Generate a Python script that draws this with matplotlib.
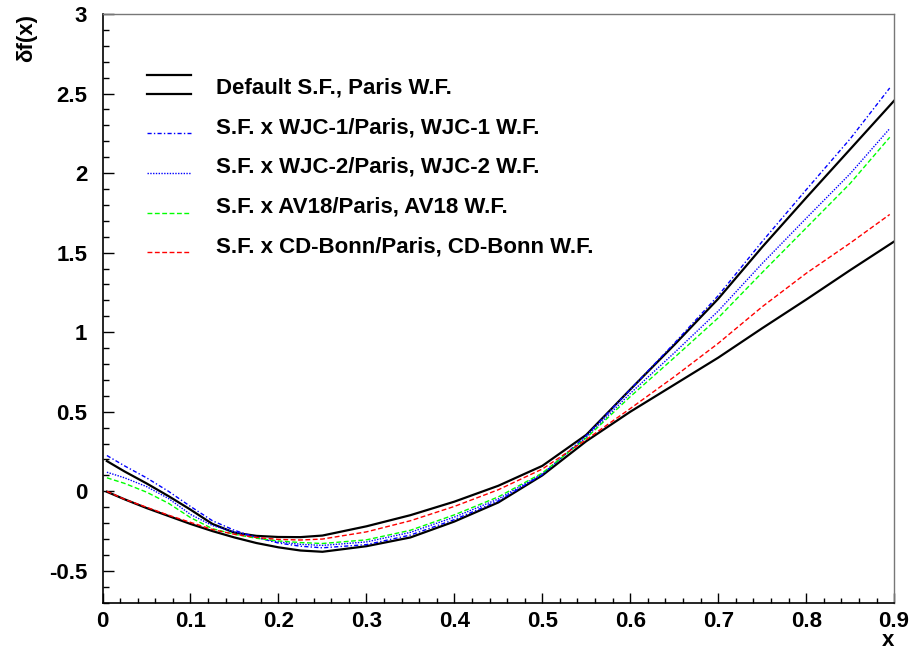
import matplotlib
matplotlib.use('Agg')
import matplotlib.pyplot as plt
from matplotlib.lines import Line2D
from matplotlib.legend_handler import HandlerBase
from matplotlib.ticker import MultipleLocator, FuncFormatter

plt.rcParams['font.family'] = ['Liberation Sans', 'DejaVu Sans']
plt.rcParams['font.weight'] = 'bold'
plt.rcParams['axes.labelweight'] = 'bold'
plt.rcParams['font.size'] = 16

# ============================== DATA ============================== #

x_paris = [0.005, 0.025, 0.05, 0.075, 0.1, 0.125, 0.15, 0.175, 0.2, 0.225, 0.25,
           0.3, 0.35, 0.4, 0.45, 0.5, 0.55, 0.6, 0.65, 0.7, 0.75, 0.8, 0.85, 0.9]
x_model = x_paris[:-1] + [0.895]

# default S.F., Paris W.F. (two black curves)
paris_hi = [0.19, 0.125, 0.05, -0.03, -0.115, -0.205, -0.26, -0.28, -0.287, -0.288, -0.278,
            -0.22, -0.15, -0.065, 0.035, 0.16, 0.355, 0.64, 0.92, 1.21, 1.535, 1.845, 2.15, 2.455]
paris_lo = [-0.003, -0.05, -0.105, -0.155, -0.205, -0.25, -0.29, -0.325, -0.352, -0.372, -0.38,
            -0.345, -0.29, -0.19, -0.07, 0.10, 0.315, 0.50, 0.67, 0.84, 1.025, 1.205, 1.39, 1.57]

wjc1 = [0.225, 0.16, 0.085, 0.0, -0.095, -0.185, -0.245, -0.29, -0.325, -0.345, -0.355,
        -0.335, -0.275, -0.178, -0.06, 0.105, 0.35, 0.64, 0.93, 1.23, 1.57, 1.895, 2.215, 2.535]
wjc2 = [0.12, 0.085, 0.03, -0.045, -0.145, -0.215, -0.255, -0.29, -0.318, -0.333, -0.34,
        -0.318, -0.258, -0.162, -0.048, 0.11, 0.34, 0.615, 0.87, 1.133, 1.432, 1.716, 1.996, 2.28]
av18 = [0.085, 0.05, -0.005, -0.075, -0.165, -0.235, -0.27, -0.295, -0.312, -0.322, -0.328,
        -0.305, -0.245, -0.148, -0.035, 0.115, 0.335, 0.595, 0.84, 1.09, 1.375, 1.655, 1.935, 2.225]
cdbonn = [0.0, -0.05, -0.1, -0.15, -0.195, -0.24, -0.27, -0.29, -0.302, -0.306, -0.3,
          -0.255, -0.185, -0.095, 0.01, 0.14, 0.325, 0.52, 0.72, 0.93, 1.16, 1.37, 1.56, 1.74]

labels = ['Default S.F., Paris W.F.',
          'S.F. x WJC-1/Paris, WJC-1 W.F.',
          'S.F. x WJC-2/Paris, WJC-2 W.F.',
          'S.F. x AV18/Paris, AV18 W.F.',
          'S.F. x CD-Bonn/Paris, CD-Bonn W.F.']

# ============================ UTILITIES ============================ #

class LegendLines(HandlerBase):
    # draws the handle as one or more horizontal lines, shifted in units of fontsize
    def __init__(self, offsets):
        super().__init__()
        self.offsets = offsets

    def create_artists(self, legend, orig_handle, xdescent, ydescent,
                       width, height, fontsize, trans):
        artists = []
        for dy in self.offsets:
            y = height / 2 - ydescent + dy * fontsize
            l = Line2D([-xdescent, width - xdescent], [y, y])
            self.update_prop(l, orig_handle, legend)
            l.set_transform(trans)
            artists.append(l)
        return artists


def fmt(v, _):
    return '%g' % round(v, 3)

# ============================== PLOT ============================== #

fig = plt.figure(figsize=(9.12, 6.51), dpi=100)
ax = fig.add_axes([0.1124, 0.0742, 0.868, 0.9043])

l_hi, = ax.plot(x_paris, paris_hi, color='black', lw=1.6)
ax.plot(x_paris, paris_lo, color='black', lw=1.6)
l_w1, = ax.plot(x_model, wjc1, color='#0000ff', lw=1.0, dashes=(3, 1.6, 1, 1.6))
l_w2, = ax.plot(x_model, wjc2, color='#0000ff', lw=1.0, dashes=(1, 1))
l_av, = ax.plot(x_model, av18, color='#00ff00', lw=1.0, dashes=(3.5, 1.8))
l_cd, = ax.plot(x_model, cdbonn, color='#ff0000', lw=1.0, dashes=(3.5, 1.8))

ax.set_xlim(0, 0.9)
ax.set_ylim(-0.7, 3)
ax.xaxis.set_major_locator(MultipleLocator(0.1))
ax.xaxis.set_minor_locator(MultipleLocator(0.02))
ax.yaxis.set_major_locator(MultipleLocator(0.5))
ax.yaxis.set_minor_locator(MultipleLocator(0.1))
ax.xaxis.set_major_formatter(FuncFormatter(fmt))
ax.yaxis.set_major_formatter(FuncFormatter(fmt))

ax.tick_params(which='both', direction='in', top=False, right=False, width=1, labelsize=16)
ax.tick_params(axis='y', which='major', length=8, pad=11)
ax.tick_params(axis='y', which='minor', length=4)
ax.tick_params(axis='x', which='major', length=7.5, pad=6)
ax.tick_params(axis='x', which='minor', length=3.8)

for s in ['left', 'bottom']:
    ax.spines[s].set_color('black')
    ax.spines[s].set_linewidth(1.2)
for s in ['top', 'right']:
    ax.spines[s].set_color('#777777')
    ax.spines[s].set_linewidth(1.0)

ax.set_xlabel('x', fontsize=16, fontweight='bold', ha='right', va='baseline')
ax.xaxis.set_label_coords(1.0, -0.0735)
ax.set_ylabel('δf(x)', fontsize=16, fontweight='bold', ha='right', va='bottom')
ax.yaxis.set_label_coords(-0.083, 1.0)

handles = [l_hi, l_w1, l_w2, l_av, l_cd]
hmap = {l_hi: LegendLines([0.5, -0.35])}
for h in handles[1:]:
    hmap[h] = LegendLines([-0.35])
ax.legend(handles, labels, handler_map=hmap, loc='upper left',
          bbox_to_anchor=(0.031, 0.926), frameon=False, fontsize=16,
          handlelength=2.0, handletextpad=1.1, labelspacing=0.84)

fig.savefig('out.png', dpi=100)
